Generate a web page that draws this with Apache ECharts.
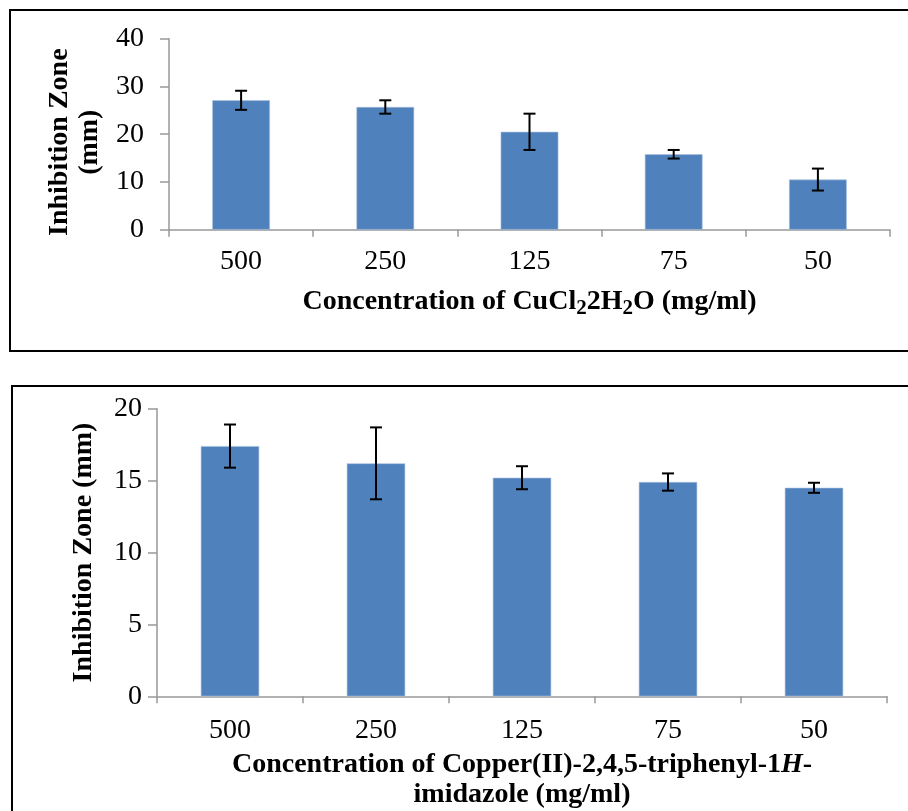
<!DOCTYPE html>
<html>
<head>
<meta charset="utf-8">
<style>
  html, body { margin: 0; padding: 0; background: #fff; }
  #chart { width: 908px; height: 811px; }
</style>
<script src="https://cdn.jsdelivr.net/npm/echarts@6/dist/echarts.min.js"></script>
</head>
<body>
<div id="chart"></div>
<script>
// ---- Data ----
var categories = ['500', '250', '125', '75', '50'];
// Top chart: CuCl2·2H2O
var cuclMeans = [27.1, 25.7, 20.5, 15.8, 10.5];
var cuclErrors = [2.0, 1.4, 3.8, 0.9, 2.3];
// Bottom chart: Copper(II)-2,4,5-triphenyl-1H-imidazole
var complexMeans = [17.4, 16.2, 15.2, 14.9, 14.5];
var complexErrors = [1.5, 2.5, 0.8, 0.6, 0.35];
var topYTicks = { min: 0, max: 40, interval: 10 };
var bottomYTicks = { min: 0, max: 20, interval: 5 };

var FONT = "'Liberation Serif', 'Times New Roman', serif";
var BAR = '#4F81BD';
var AXIS = '#999999';

function errData(means, errs) {
  return means.map(function (m, i) { return [i, m, errs[i]]; });
}

function errorRender(params, api) {
  var x = api.value(0), m = api.value(1), e = api.value(2);
  var hi = api.coord([x, m + e]);
  var lo = api.coord([x, m - e]);
  var c = 6;
  var st = { stroke: '#000', lineWidth: 2 };
  return {
    type: 'group',
    children: [
      { type: 'line', shape: { x1: hi[0], y1: hi[1], x2: lo[0], y2: lo[1] }, style: st },
      { type: 'line', shape: { x1: hi[0] - c, y1: hi[1], x2: hi[0] + c, y2: hi[1] }, style: st },
      { type: 'line', shape: { x1: lo[0] - c, y1: lo[1], x2: lo[0] + c, y2: lo[1] }, style: st }
    ]
  };
}

function xAxisCfg(gridIndex, name, nameGap, labelMargin, nameStyle) {
  return {
    type: 'category',
    gridIndex: gridIndex,
    data: categories,
    boundaryGap: true,
    axisLine: { lineStyle: { color: AXIS, width: 1.5 } },
    axisTick: { show: true, length: 7, lineStyle: { color: AXIS, width: 1.5 } },
    axisLabel: { fontFamily: FONT, fontSize: 28, color: '#000', margin: labelMargin },
    name: name,
    nameLocation: 'middle',
    nameGap: nameGap,
    nameTextStyle: nameStyle
  };
}

function yAxisCfg(gridIndex, ticks, name, nameGap, labelMargin, lineHeight, padding) {
  return {
    type: 'value',
    gridIndex: gridIndex,
    min: ticks.min, max: ticks.max, interval: ticks.interval,
    splitLine: { show: false },
    axisLine: { show: true, lineStyle: { color: AXIS, width: 1.5 } },
    axisTick: { show: true, length: 9, lineStyle: { color: AXIS, width: 1.5 } },
    axisLabel: { fontFamily: FONT, fontSize: 28, color: '#000', margin: labelMargin },
    name: name,
    nameLocation: 'middle',
    nameGap: nameGap,
    nameTextStyle: { fontFamily: FONT, fontSize: 28, fontWeight: 'bold', color: '#000', lineHeight: lineHeight, align: 'center', padding: padding }
  };
}

var subStyle = { fontFamily: FONT, fontSize: 21, fontWeight: 'bold', color: '#000', verticalAlign: 'bottom', lineHeight: 21 };

var chart = echarts.init(document.getElementById('chart'), null, { renderer: 'canvas' });
chart.setOption({
  backgroundColor: '#fff',
  animation: false,
  graphic: [
    { type: 'rect', shape: { x: 10, y: 10, width: 920, height: 341 }, style: { fill: 'none', stroke: '#000', lineWidth: 2 }, z: -1 },
    { type: 'rect', shape: { x: 12, y: 386, width: 920, height: 500 }, style: { fill: 'none', stroke: '#000', lineWidth: 2 }, z: -1 }
  ],
  grid: [
    { left: 169, top: 38.7, width: 721, height: 191, containLabel: false },
    { left: 157, top: 408.7, width: 730, height: 287.6, containLabel: false }
  ],
  xAxis: [
    xAxisCfg(0, 'Concentration of CuCl{s|2}2H{s|2}O (mg/ml)', 55, 18,
      { fontFamily: FONT, fontSize: 28, fontWeight: 'bold', color: '#000', lineHeight: 34,
        rich: { s: subStyle } }),
    xAxisCfg(1, 'Concentration of Copper(II)-2,4,5-triphenyl-1{i|H}-\nimidazole (mg/ml)', 53, 20,
      { fontFamily: FONT, fontSize: 28, fontWeight: 'bold', color: '#000', lineHeight: 30, align: 'center',
        rich: { i: { fontFamily: FONT, fontSize: 28, fontWeight: 'bold', fontStyle: 'italic', color: '#000', lineHeight: 30 } } })
  ],
  yAxis: [
    yAxisCfg(0, topYTicks, 'Inhibition Zone\n(mm)', 60, 25, 30, [0, 16, 0, 0]),
    yAxisCfg(1, bottomYTicks, 'Inhibition Zone (mm)', 59, 15, 28, [0, 0, 0, 0])
  ],
  series: [
    { type: 'bar', xAxisIndex: 0, yAxisIndex: 0, data: cuclMeans, barWidth: '40%',
      itemStyle: { color: BAR, borderColor: '#a9c0de', borderWidth: 0.6 } },
    { type: 'custom', xAxisIndex: 0, yAxisIndex: 0, data: errData(cuclMeans, cuclErrors), renderItem: errorRender, z: 5 },
    { type: 'bar', xAxisIndex: 1, yAxisIndex: 1, data: complexMeans, barWidth: '40%',
      itemStyle: { color: BAR, borderColor: '#a9c0de', borderWidth: 0.6 } },
    { type: 'custom', xAxisIndex: 1, yAxisIndex: 1, data: errData(complexMeans, complexErrors), renderItem: errorRender, z: 5 }
  ]
});
</script>
</body>
</html>
